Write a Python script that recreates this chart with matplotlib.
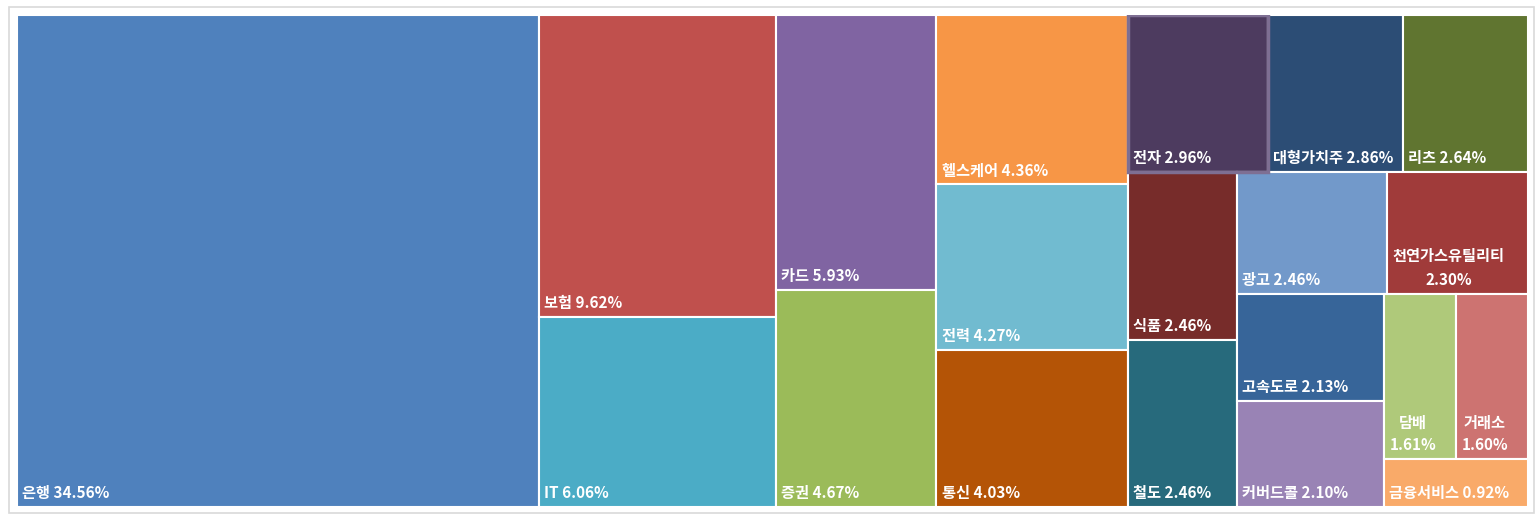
"""
Treemap: 섹터별 비중
"""

import matplotlib

matplotlib.use("Agg")
import matplotlib.pyplot as plt
from matplotlib.patches import Rectangle

plt.rcParams["font.family"] = ["Noto Sans CJK KR", "DejaVu Sans"]

# ── dados ──────────────────────────────────────────────────────────
categorias = [
    "은행", "보험", "IT", "카드", "증권", "헬스케어", "전력", "통신",
    "전자", "대형가치주", "리츠", "식품", "철도", "광고", "천연가스유틸리티",
    "고속도로", "커버드콜", "담배", "거래소", "금융서비스",
]
pesos = [
    34.56, 9.62, 6.06, 5.93, 4.67, 4.36, 4.27, 4.03,
    2.96, 2.86, 2.64, 2.46, 2.46, 2.46, 2.30,
    2.13, 2.10, 1.61, 1.60, 0.92,
]
cores = [
    "#4F81BD", "#C0504D", "#4BACC6", "#8064A2", "#9BBB59", "#F79646", "#71BBD0", "#B45406",
    "#4D3B5F", "#2C4D75", "#607530", "#772C2A", "#276A7C", "#7299CA", "#A03B3A",
    "#376599", "#9983B5", "#AFC97A", "#CD7371", "#F9AA69",
]
DESTAQUE = "전자"
ALVO = 1.2  # proporção altura/largura preferida para cada célula


# ── squarify (com proporção-alvo) ──────────────────────────────────
def _layout(tam, x, y, dx, dy):
    area = sum(tam)
    rects = []
    if dx >= dy:
        w = area / dy
        for t in tam:
            rects.append((x, y, w, t / w))
            y += t / w
    else:
        h = area / dx
        for t in tam:
            rects.append((x, y, t / h, h))
            x += t / h
    return rects


def _sobra(tam, x, y, dx, dy):
    area = sum(tam)
    if dx >= dy:
        w = area / dy
        return x + w, y, dx - w, dy
    h = area / dx
    return x, y + h, dx, dy - h


def _pior(tam, x, y, dx, dy):
    notas = []
    for _, _, w, h in _layout(tam, x, y, dx, dy):
        r = h / w
        notas.append(max(r / ALVO, ALVO / r))
    return max(notas)


def squarify(tam, x, y, dx, dy):
    if not tam:
        return []
    if len(tam) == 1:
        return _layout(tam, x, y, dx, dy)
    i = 1
    while i < len(tam) and _pior(tam[:i], x, y, dx, dy) >= _pior(tam[:i + 1], x, y, dx, dy):
        i += 1
    atual, resto = tam[:i], tam[i:]
    return _layout(atual, x, y, dx, dy) + squarify(resto, *_sobra(atual, x, y, dx, dy))


# ── figura ─────────────────────────────────────────────────────────
fig = plt.figure(figsize=(15.36, 5.18), dpi=100)
fig.patch.set_facecolor("white")
fig.add_artist(Rectangle((9 / 1536, 5 / 518), 1525 / 1536, 506 / 518,
                         transform=fig.transFigure, fill=False,
                         edgecolor="#D9D9D9", linewidth=1.2))

ax = fig.add_axes([17 / 1536, 11 / 518, 1511 / 1536, 492 / 518])
W, H = 1511.0, 492.0
ax.set_xlim(0, W)
ax.set_ylim(H, 0)
ax.axis("off")

total = sum(pesos)
normal = [p * W * H / total for p in pesos]
rects = squarify(normal, 0, 0, W, H)

renderer = fig.canvas.get_renderer()

for (x, y, dx, dy), nome, val, cor in zip(rects, categorias, pesos, cores):
    ax.add_patch(Rectangle((x, y), dx, dy, facecolor=cor, edgecolor="white", linewidth=1.5))
    if nome == DESTAQUE:
        ax.add_patch(Rectangle((x, y), dx, dy, fill=False, edgecolor="#7E6F93", linewidth=2.5, zorder=3))

    rotulo = f"{nome} {val:.2f}%"
    t = ax.annotate(rotulo, xy=(x, y + dy), xytext=(3.8, 6.5), textcoords="offset points",
                    ha="left", va="baseline", color="white", fontsize=11,
                    fontweight="bold", zorder=4)
    largura = t.get_window_extent(renderer).width
    if largura > dx - 8:
        t.set_text(f"{nome}\n{val:.2f}%")
        t.set_multialignment("center")
        t.set_linespacing(1.55)

fig.savefig("out.png", dpi=100)
